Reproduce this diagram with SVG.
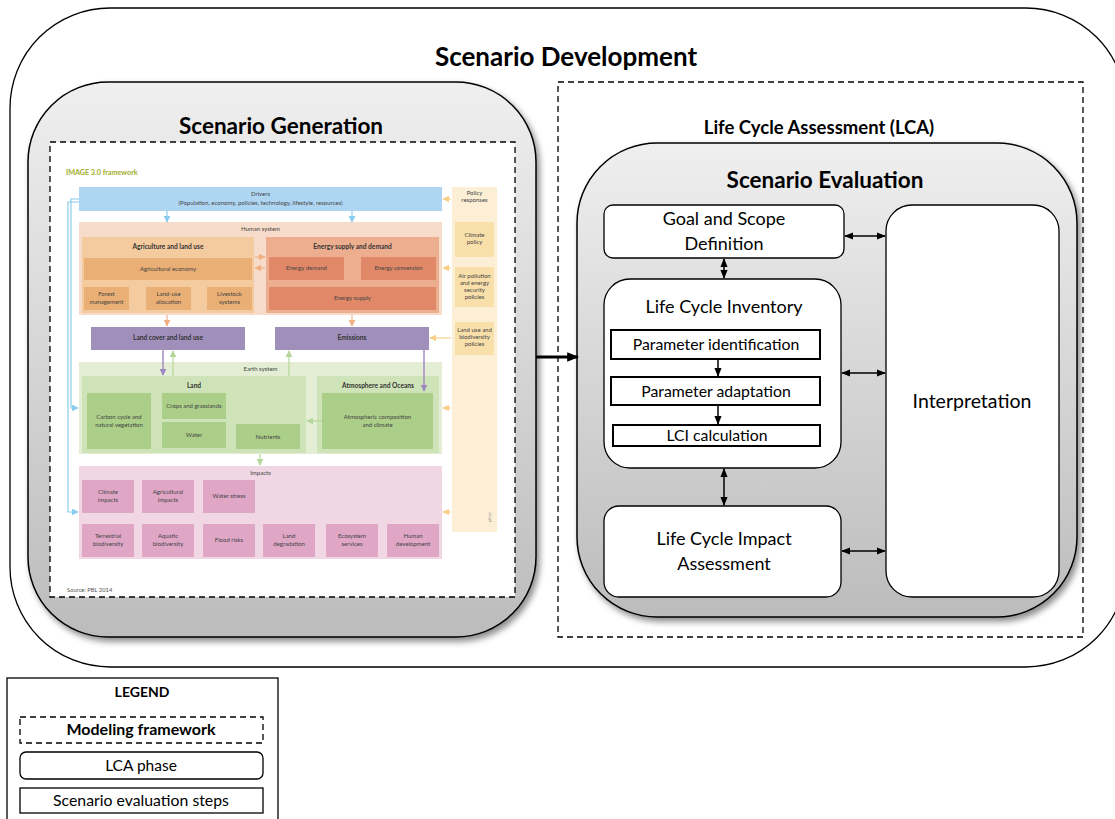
<svg xmlns="http://www.w3.org/2000/svg" width="1115" height="819" viewBox="0 0 1115 819">
<defs>
<linearGradient id="gray" x1="0" y1="0" x2="0" y2="1">
<stop offset="0" stop-color="#efefef"/>
<stop offset="1" stop-color="#bcbcbc"/>
</linearGradient>
<filter id="sh" x="-5%" y="-5%" width="115%" height="115%">
<feDropShadow dx="3" dy="4" stdDeviation="3" flood-color="#000" flood-opacity="0.45"/>
</filter>
<marker id="ahs" viewBox="0 0 10 10" refX="9" refY="5" markerWidth="9" markerHeight="9" orient="auto-start-reverse" markerUnits="userSpaceOnUse">
<path d="M0,1 L10,5 L0,9 z" fill="#000"/>
</marker>
<marker id="ahb" viewBox="0 0 10 10" refX="9" refY="5" markerWidth="12" markerHeight="12" orient="auto" markerUnits="userSpaceOnUse">
<path d="M0,1 L10,5 L0,9 z" fill="#000"/>
</marker>
<marker id="mBlue" viewBox="0 0 10 10" refX="9" refY="5" markerWidth="7" markerHeight="7" orient="auto" markerUnits="userSpaceOnUse"><path d="M0,0 L10,5 L0,10 z" fill="#8ccbf0"/></marker>
<marker id="mOr" viewBox="0 0 10 10" refX="9" refY="5" markerWidth="7" markerHeight="7" orient="auto" markerUnits="userSpaceOnUse"><path d="M0,0 L10,5 L0,10 z" fill="#f2b184"/></marker>
<marker id="mPu" viewBox="0 0 10 10" refX="9" refY="5" markerWidth="7" markerHeight="7" orient="auto" markerUnits="userSpaceOnUse"><path d="M0,0 L10,5 L0,10 z" fill="#9e86c2"/></marker>
<marker id="mGr" viewBox="0 0 10 10" refX="9" refY="5" markerWidth="7" markerHeight="7" orient="auto" markerUnits="userSpaceOnUse"><path d="M0,0 L10,5 L0,10 z" fill="#b5d69a"/></marker>
<marker id="mYe" viewBox="0 0 10 10" refX="9" refY="5" markerWidth="7" markerHeight="7" orient="auto" markerUnits="userSpaceOnUse"><path d="M0,0 L10,5 L0,10 z" fill="#f7cf86"/></marker>
</defs>
<style>
text{font-family:Lato,"Liberation Sans",sans-serif;fill:#000}
.t{text-anchor:middle}
.b{font-weight:bold}
.h1{font-size:26px;font-weight:bold}
.h2{font-size:22.5px;font-weight:bold}
.h3{font-size:18.5px;font-weight:bold}
.lab{font-size:18px}
.step{font-size:15.8px}
.line{fill:none;stroke:#000;stroke-width:1.3}
.dash{fill:none;stroke:#000;stroke-width:1.3;stroke-dasharray:6,4}
.box{fill:#fff;stroke:#000;stroke-width:1.3}
.sbox{fill:#fff;stroke:#000;stroke-width:2}
.big{fill:url(#gray);stroke:#000;stroke-width:1.5;filter:url(#sh)}
.con{fill:none;stroke:#000;stroke-width:1.5}
.i{font-size:6px;fill:#444;text-anchor:middle}
.ib{font-size:6.6px;font-weight:bold;fill:#333;text-anchor:middle}
.blue{stroke:#8ccbf0;stroke-width:1.2;fill:none}
.or{stroke:#f2b184;stroke-width:1.2;fill:none}
.pu{stroke:#9e86c2;stroke-width:1.4;fill:none}
.gr{stroke:#b5d69a;stroke-width:1.2;fill:none}
.ye{stroke:#f7cf86;stroke-width:1.2;fill:none}
</style>

<g id="scenario-development">
<rect x="10" y="8" width="1116" height="659" rx="100" ry="100" class="line"/>
<text x="566" y="66" class="t h1">Scenario Development</text>
</g>

<g id="scenario-generation">
<rect x="28" y="82" width="508" height="555" rx="80" ry="80" class="big"/>
<text x="281" y="134" class="t h2">Scenario Generation</text>
</g>

<g id="image-framework">
<rect x="50" y="142" width="465" height="455" fill="#fff"/>
<rect x="50" y="142" width="465" height="455" class="dash" stroke-width="1.8"/>
<text x="66" y="175" font-size="7.2px" font-weight="bold" style="fill:#9fae2e">IMAGE 3.0 framework</text>

<rect x="452" y="187" width="45" height="345" fill="#fcefd6"/>
<text x="474.5" y="195" class="i">Policy</text>
<text x="474.5" y="202" class="i">responses</text>
<rect x="455" y="222" width="39" height="35" fill="#f9dfaa"/>
<text x="474.5" y="237" class="i">Climate</text>
<text x="474.5" y="244" class="i">policy</text>
<rect x="455" y="267" width="39" height="40" fill="#f9dfaa"/>
<text x="474.5" y="278" class="i">Air pollution</text>
<text x="474.5" y="285" class="i">and energy</text>
<text x="474.5" y="292" class="i">security</text>
<text x="474.5" y="299" class="i">policies</text>
<rect x="455" y="322" width="39" height="33" fill="#f9dfaa"/>
<text x="474.5" y="332" class="i">Land use and</text>
<text x="474.5" y="339" class="i">biodiversity</text>
<text x="474.5" y="346" class="i">policies</text>
<text x="491" y="522" font-size="4px" style="fill:#999" transform="rotate(-90 491 522)">pbl.nl</text>

<rect x="79" y="187" width="363" height="24" fill="#aed6f2"/>
<text x="260.5" y="196" class="i">Drivers</text>
<text x="260.5" y="205" class="i">(Population, economy, policies, technology, lifestyle, resources)</text>

<rect x="79" y="222" width="363" height="93" fill="#f7dccb"/>
<text x="260.5" y="231" class="i">Human system</text>
<rect x="82" y="237" width="172" height="76" fill="#f4cb9f"/>
<text x="168" y="249" class="ib">Agriculture and land use</text>
<rect x="84" y="258" width="168" height="22" fill="#eaaf75"/>
<text x="168" y="271" class="i">Agricultural economy</text>
<rect x="84" y="287" width="45" height="23" fill="#eaaf75"/>
<text x="106.5" y="296" class="i">Forest</text>
<text x="106.5" y="304" class="i">management</text>
<rect x="146" y="287" width="45" height="23" fill="#eaaf75"/>
<text x="168.5" y="296" class="i">Land-use</text>
<text x="168.5" y="304" class="i">allocation</text>
<rect x="207" y="287" width="45" height="23" fill="#eaaf75"/>
<text x="229.5" y="296" class="i">Livestock</text>
<text x="229.5" y="304" class="i">systems</text>
<rect x="266" y="237" width="173" height="76" fill="#edae90"/>
<text x="352.5" y="249" class="ib">Energy supply and demand</text>
<rect x="269" y="257" width="75" height="23" fill="#e08868"/>
<text x="306.5" y="270" class="i">Energy demand</text>
<rect x="361" y="257" width="75" height="23" fill="#e08868"/>
<text x="398.5" y="270" class="i">Energy conversion</text>
<rect x="269" y="287" width="167" height="23" fill="#e08868"/>
<text x="352.5" y="300" class="i">Energy supply</text>

<rect x="91" y="327" width="154" height="23" fill="#a08fbb"/>
<text x="168" y="340" class="ib">Land cover and land use</text>
<rect x="275" y="327" width="154" height="23" fill="#a08fbb"/>
<text x="352" y="340" class="ib">Emissions</text>

<rect x="79" y="362" width="363" height="92" fill="#e3eed5"/>
<text x="260.5" y="371" class="i">Earth system</text>
<rect x="82" y="376" width="224" height="77" fill="#cfe3b8"/>
<text x="194" y="388" class="ib">Land</text>
<rect x="87" y="393" width="64" height="56" fill="#abcf88"/>
<text x="119" y="419" class="i">Carbon cycle and</text>
<text x="119" y="427" class="i">natural vegetation</text>
<rect x="162" y="393" width="64" height="26" fill="#abcf88"/>
<text x="194" y="408" class="i">Crops and grasslands</text>
<rect x="162" y="422" width="64" height="26" fill="#abcf88"/>
<text x="194" y="437" class="i">Water</text>
<rect x="236" y="424" width="64" height="25" fill="#abcf88"/>
<text x="268" y="439" class="i">Nutrients</text>
<rect x="317" y="376" width="122" height="77" fill="#cfe3b8"/>
<text x="378" y="388" class="ib">Atmosphere and Oceans</text>
<rect x="322" y="393" width="111" height="56" fill="#abcf88"/>
<text x="377.5" y="419" class="i">Atmospheric composition</text>
<text x="377.5" y="427" class="i">and climate</text>

<rect x="79" y="466" width="363" height="93" fill="#f1d7e4"/>
<text x="260.5" y="475" class="i">Impacts</text>
<rect x="82" y="480" width="52" height="33" fill="#dfa6c6"/>
<text x="108" y="494" class="i">Climate</text>
<text x="108" y="502" class="i">impacts</text>
<rect x="142" y="480" width="52" height="33" fill="#dfa6c6"/>
<text x="168" y="494" class="i">Agricultural</text>
<text x="168" y="502" class="i">impacts</text>
<rect x="203" y="480" width="52" height="33" fill="#dfa6c6"/>
<text x="229" y="498" class="i">Water stress</text>
<rect x="82" y="524" width="52" height="33" fill="#dfa6c6"/>
<text x="108" y="538" class="i">Terrestrial</text>
<text x="108" y="546" class="i">biodiversity</text>
<rect x="142" y="524" width="52" height="33" fill="#dfa6c6"/>
<text x="168" y="538" class="i">Aquatic</text>
<text x="168" y="546" class="i">biodiversity</text>
<rect x="203" y="524" width="52" height="33" fill="#dfa6c6"/>
<text x="229" y="542" class="i">Flood risks</text>
<rect x="263" y="524" width="52" height="33" fill="#dfa6c6"/>
<text x="289" y="538" class="i">Land</text>
<text x="289" y="546" class="i">degradation</text>
<rect x="326" y="524" width="52" height="33" fill="#dfa6c6"/>
<text x="352" y="538" class="i">Ecosystem</text>
<text x="352" y="546" class="i">services</text>
<rect x="387" y="524" width="52" height="33" fill="#dfa6c6"/>
<text x="413" y="538" class="i">Human</text>
<text x="413" y="546" class="i">development</text>

<text x="67" y="592" font-size="5.8px" style="fill:#555">Source: PBL 2014</text>

<path d="M79,199 H71 V408 H78" class="blue" marker-end="url(#mBlue)"/>
<path d="M79,202 H68 V512 H78" class="blue" marker-end="url(#mBlue)"/>
<path d="M167,211 V222" class="blue" marker-end="url(#mBlue)"/>
<path d="M352,211 V222" class="blue" marker-end="url(#mBlue)"/>
<path d="M255,257 H265" class="or" marker-end="url(#mOr)"/>
<path d="M265,268 H255" class="or" marker-end="url(#mOr)"/>
<path d="M167,315 V326" class="or" marker-end="url(#mOr)"/>
<path d="M352,315 V326" class="or" marker-end="url(#mOr)"/>
<path d="M163,350 V375" class="pu" marker-end="url(#mPu)"/>
<path d="M424,350 V391" class="pu" marker-end="url(#mPu)"/>
<path d="M173,376 V351" class="gr" marker-end="url(#mGr)"/>
<path d="M289,376 V351" class="gr" marker-end="url(#mGr)"/>
<path d="M322,421 H307" class="gr" marker-end="url(#mGr)"/>
<path d="M260,454 V465" class="gr" marker-end="url(#mGr)"/>
<path d="M451,199 H443" class="ye" marker-end="url(#mYe)"/>
<path d="M451,268 H443" class="ye" marker-end="url(#mYe)"/>
<path d="M451,338 H430" class="ye" marker-end="url(#mYe)"/>
<path d="M451,408 H443" class="ye" marker-end="url(#mYe)"/>
<path d="M451,512 H443" class="ye" marker-end="url(#mYe)"/>
</g>

<g id="lca">
<rect x="558" y="82" width="525" height="555" class="dash"/>
<text x="819" y="134" class="t h3">Life Cycle Assessment (LCA)</text>
</g>

<g id="scenario-evaluation">
<rect x="577" y="143" width="500" height="474" rx="80" ry="80" class="big"/>
<text x="825" y="188" class="t h2">Scenario Evaluation</text>
</g>

<g id="goal-scope">
<rect x="604" y="205" width="240" height="53" rx="9" class="box"/>
<text x="724" y="225" class="t lab">Goal and Scope</text>
<text x="724" y="250" class="t lab">Definition</text>
</g>

<g id="interpretation">
<rect x="886" y="205" width="173" height="392" rx="26" class="box"/>
<text x="972" y="408" class="t" font-size="19.5px">Interpretation</text>
</g>

<g id="lci">
<rect x="604" y="279" width="237" height="189" rx="26" class="box"/>
<text x="724" y="313" class="t lab">Life Cycle  Inventory</text>
</g>

<g id="param-id">
<rect x="611" y="330" width="209" height="29" class="sbox"/>
<text x="716" y="350" class="t step">Parameter identification</text>
</g>

<g id="param-adapt">
<rect x="611" y="377" width="209" height="28" class="sbox"/>
<text x="716" y="397" class="t step">Parameter adaptation</text>
</g>

<g id="lci-calc">
<rect x="613" y="425" width="207" height="21" class="sbox"/>
<text x="717" y="441" class="t step">LCI calculation</text>
</g>

<g id="lcia">
<rect x="604" y="506" width="237" height="91" rx="15" class="box"/>
<text x="724" y="545" class="t lab">Life Cycle  Impact</text>
<text x="724" y="570" class="t lab">Assessment</text>
</g>

<g id="connectors">
<path d="M536,357 H578" fill="none" stroke="#000" stroke-width="3" marker-end="url(#ahb)"/>
<path d="M724,259 V278" class="con" marker-start="url(#ahs)" marker-end="url(#ahs)"/>
<path d="M724,469 V505" class="con" marker-start="url(#ahs)" marker-end="url(#ahs)"/>
<path d="M845,236 H885" class="con" marker-start="url(#ahs)" marker-end="url(#ahs)"/>
<path d="M842,373 H885" class="con" marker-start="url(#ahs)" marker-end="url(#ahs)"/>
<path d="M842,551 H885" class="con" marker-start="url(#ahs)" marker-end="url(#ahs)"/>
<path d="M718,360 V376" class="con" marker-end="url(#ahs)"/>
<path d="M718,406 V424" class="con" marker-end="url(#ahs)"/>
</g>

<g id="legend">
<rect x="7" y="678" width="271" height="150" class="line"/>
<text x="142" y="697" class="t b" font-size="14px">LEGEND</text>
<rect x="20" y="717" width="243" height="26" class="dash"/>
<text x="141" y="735" class="t b" font-size="16px">Modeling  framework</text>
<rect x="20" y="752" width="243" height="27" rx="6" class="line"/>
<text x="141" y="771" class="t" font-size="15.5px">LCA phase</text>
<rect x="20" y="788" width="243" height="25" class="line"/>
<text x="141" y="806" class="t" font-size="15.8px">Scenario evaluation steps</text>
</g>
</svg>
